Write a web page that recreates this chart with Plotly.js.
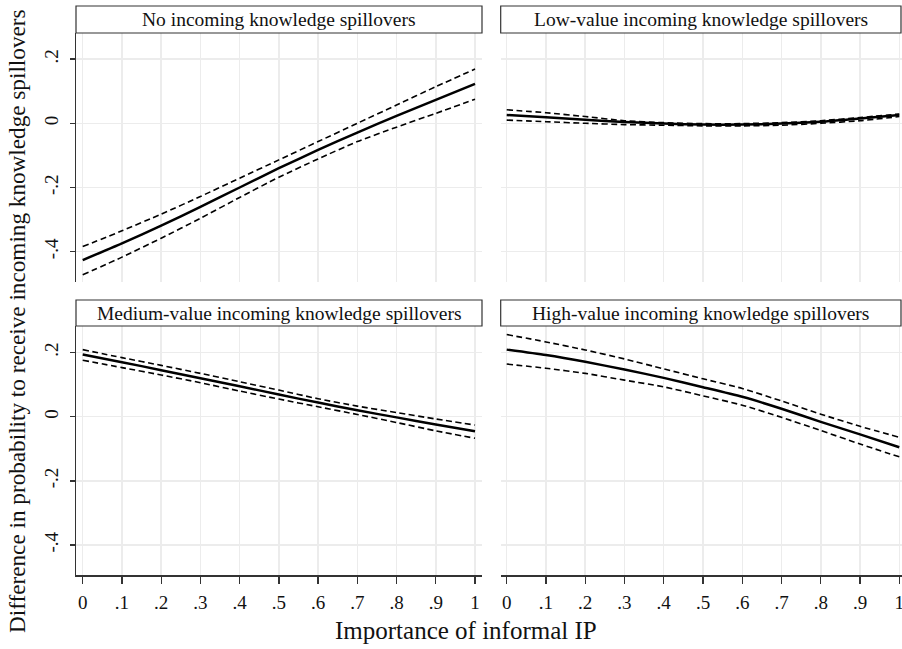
<!DOCTYPE html>
<html>
<head>
<meta charset="utf-8">
<script src="https://cdn.plot.ly/plotly-3.0.1.min.js"></script>
<style>html,body{margin:0;padding:0;background:#fff;}#chart{width:902px;height:649px;}</style>
</head>
<body>
<div id="chart"></div>
<script>
// ---------- data ----------
const xs = [0, 0.1, 0.2, 0.3, 0.4, 0.5, 0.6, 0.7, 0.8, 0.9, 1];

const panelTitles = [
  "No incoming knowledge spillovers",
  "Low-value incoming knowledge spillovers",
  "Medium-value incoming knowledge spillovers",
  "High-value incoming knowledge spillovers"
];

const noneEst   = [-0.426, -0.374, -0.319, -0.260, -0.200, -0.140, -0.083, -0.029, 0.023, 0.073, 0.123];
const noneUpper = [-0.384, -0.335, -0.283, -0.228, -0.171, -0.114, -0.057, 0.000, 0.057, 0.114, 0.169];
const noneLower = [-0.472, -0.417, -0.358, -0.296, -0.231, -0.168, -0.111, -0.057, -0.012, 0.031, 0.075];

const lowEst   = [0.026, 0.019, 0.011, 0.004, -0.001, -0.004, -0.004, -0.001, 0.005, 0.015, 0.026];
const lowUpper = [0.042, 0.033, 0.021, 0.008, 0.002, -0.001, -0.001, 0.002, 0.008, 0.018, 0.029];
const lowLower = [0.010, 0.005, 0.000, -0.004, -0.006, -0.008, -0.008, -0.006, 0.000, 0.008, 0.021];

const medEst   = [0.194, 0.170, 0.145, 0.120, 0.095, 0.069, 0.044, 0.020, -0.002, -0.024, -0.045];
const medUpper = [0.209, 0.184, 0.160, 0.135, 0.109, 0.083, 0.056, 0.033, 0.013, -0.007, -0.026];
const medLower = [0.176, 0.153, 0.130, 0.106, 0.080, 0.055, 0.031, 0.007, -0.018, -0.044, -0.067];

const highEst   = [0.209, 0.192, 0.171, 0.147, 0.121, 0.092, 0.062, 0.025, -0.016, -0.055, -0.095];
const highUpper = [0.256, 0.233, 0.208, 0.180, 0.149, 0.118, 0.088, 0.049, 0.008, -0.030, -0.064];
const highLower = [0.164, 0.151, 0.135, 0.114, 0.093, 0.065, 0.036, -0.002, -0.043, -0.085, -0.125];

const xTickVals = [0, 0.1, 0.2, 0.3, 0.4, 0.5, 0.6, 0.7, 0.8, 0.9, 1];
const xTickText = ["0", ".1", ".2", ".3", ".4", ".5", ".6", ".7", ".8", ".9", "1"];
const yTickVals = [-0.4, -0.2, 0, 0.2];
const yTickText = ["-.4", "-.2", "0", ".2"];

const xTitle = "Importance of informal IP";
const yTitle = "Difference in probability to receive incoming knowledge spillovers";

// ---------- build ----------
const W = 902, H = 649;
const px = v => v / W;
const py = v => 1 - v / H;
const FONT = "\"Liberation Serif\", \"DejaVu Serif\", serif";
const AX = "#333333";
const GRID = "#ececec";

const panels = [
  {est: noneEst, up: noneUpper, lo: noneLower, xa: "x",  ya: "y"},
  {est: lowEst,  up: lowUpper,  lo: lowLower,  xa: "x2", ya: "y2"},
  {est: medEst,  up: medUpper,  lo: medLower,  xa: "x3", ya: "y3"},
  {est: highEst, up: highUpper, lo: highLower, xa: "x4", ya: "y4"}
];

const traces = [];
panels.forEach(p => {
  [p.up, p.lo].forEach(arr => traces.push({
    x: xs, y: arr, xaxis: p.xa, yaxis: p.ya, mode: "lines", type: "scatter",
    line: {color: "#000", width: 1.6, dash: "6px,3.5px", shape: "spline", smoothing: 0.6},
    hoverinfo: "skip", showlegend: false
  }));
  traces.push({
    x: xs, y: p.est, xaxis: p.xa, yaxis: p.ya, mode: "lines", type: "scatter",
    line: {color: "#000", width: 2.5, shape: "spline", smoothing: 0.6},
    hoverinfo: "skip", showlegend: false
  });
});

const colL = [76, 482], colR = [500.7, 902];
const rowT = [33, 282], rowB = [326, 575.3];
const xRangeL = [-0.0171, 1.0178], xRangeR = [-0.0153, 1.0069];
const yRangeT = [-0.4944, 0.2813], yRangeB = [-0.494, 0.2826];

function xAxis(col, range, anchor, bottom) {
  return {
    domain: [px(col[0]), px(col[1])], range: range, anchor: anchor,
    tickmode: "array", tickvals: xTickVals, ticktext: xTickText,
    showticklabels: bottom, ticks: bottom ? "outside" : "", ticklen: 7, tickwidth: 1.3, tickcolor: AX,
    showline: bottom, linecolor: AX, linewidth: 1.3,
    showgrid: true, gridcolor: GRID, gridwidth: 1.5, zeroline: false,
    ticklabeloverflow: "allow",
    tickfont: {family: FONT, size: 19, color: "#111"}, ticklabelstandoff: 3
  };
}
function yAxis(row, range, anchor, left) {
  return {
    domain: [py(row[1]), py(row[0])], range: range, anchor: anchor,
    tickmode: "array", tickvals: yTickVals, ticktext: yTickText,
    showticklabels: left, ticks: left ? "outside" : "", ticklen: 5, tickwidth: 1.3, tickcolor: AX,
    showline: left, linecolor: AX, linewidth: 1.3, tickangle: -90,
    showgrid: true, gridcolor: GRID, gridwidth: 1.5, zeroline: false,
    tickfont: {family: FONT, size: 19, color: "#111"}, ticklabelstandoff: 4
  };
}

const layout = {
  width: W, height: H,
  margin: {l: 0, r: 0, t: 0, b: 0},
  paper_bgcolor: "#fff", plot_bgcolor: "#fff",
  showlegend: false,
  font: {family: FONT, color: "#111"},
  xaxis:  xAxis(colL, xRangeL, "y",  false),
  xaxis2: xAxis(colR, xRangeR, "y2", false),
  xaxis3: xAxis(colL, xRangeL, "y3", true),
  xaxis4: xAxis(colR, xRangeR, "y4", true),
  yaxis:  yAxis(rowT, yRangeT, "x",  true),
  yaxis2: yAxis(rowT, yRangeT, "x2", false),
  yaxis3: yAxis(rowB, yRangeB, "x3", true),
  yaxis4: yAxis(rowB, yRangeB, "x4", false),
  shapes: [], annotations: []
};

const headers = [
  {col: colL, y0: 6, y1: 33},
  {col: colR, y0: 6, y1: 33},
  {col: colL, y0: 300, y1: 326},
  {col: colR, y0: 300, y1: 326}
];
headers.forEach((h, i) => {
  const right = h.col[1] >= W ? W - 1 : h.col[1];
  layout.shapes.push({
    type: "rect", xref: "paper", yref: "paper",
    x0: px(h.col[0]), x1: px(right), y0: py(h.y1), y1: py(h.y0),
    line: {color: AX, width: 1.2}, fillcolor: "#fff", layer: "above"
  });
  layout.annotations.push({
    xref: "paper", yref: "paper", x: px((h.col[0] + right) / 2), y: py((h.y0 + h.y1) / 2),
    xanchor: "center", yanchor: "middle", showarrow: false,
    text: panelTitles[i], font: {family: FONT, size: 19.5, color: "#111"}
  });
});

layout.annotations.push({
  xref: "paper", yref: "paper", x: px(466), y: py(630), xanchor: "center", yanchor: "middle",
  showarrow: false, text: xTitle, font: {family: FONT, size: 25, color: "#111"}
});
layout.annotations.push({
  xref: "paper", yref: "paper", x: px(17), y: py(321), xanchor: "center", yanchor: "middle",
  showarrow: false, textangle: -90, text: yTitle, font: {family: FONT, size: 23.2, color: "#111"}
});

Plotly.newPlot("chart", traces, layout, {staticPlot: true, displayModeBar: false});
</script>
</body>
</html>
